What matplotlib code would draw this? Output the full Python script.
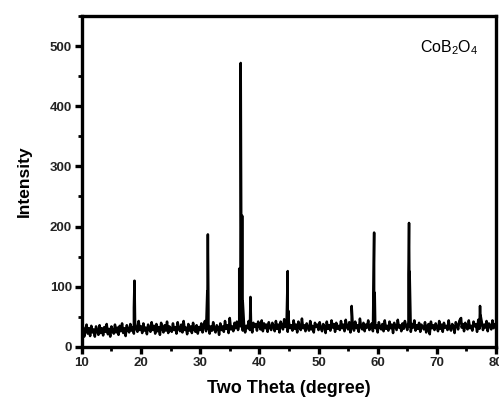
# XRD pattern of CoB2O4
import numpy as np
import matplotlib.pyplot as plt

plt.rcParams['font.family'] = ['Liberation Sans', 'DejaVu Sans']
plt.rcParams['mathtext.fontset'] = 'custom'
plt.rcParams['mathtext.rm'] = 'Liberation Sans'

# baseline, one value every 0.2 degree from 10 to 80
baseline_start = 10.0
baseline_step = 0.2
baseline = [
    20, 33, 17, 28, 37, 22, 31, 18, 35, 24,
    29, 17, 34, 26, 20, 36, 23, 31, 19, 33,
    25, 38, 21, 30, 17, 34, 27, 22, 37, 24,
    32, 20, 35, 26, 39, 23, 31, 18, 36, 28,
    24, 38, 27, 33, 22, 40, 29, 25, 43, 28,
    34, 23, 39, 27, 32, 21, 37, 29, 25, 41,
    28, 35, 22, 38, 26, 33, 20, 40, 31, 24,
    36, 27, 42, 23, 34, 29, 25, 39, 28, 33,
    22, 41, 30, 26, 37, 24, 43, 28, 32, 21,
    38, 27, 34, 23, 40, 29, 25, 36, 22, 33,
    28, 39, 24, 35, 43, 26, 31, 38, 22, 34,
    27, 41, 29, 24, 36, 32, 20, 39, 28, 34,
    25, 43, 30, 36, 23, 48, 29, 34, 26, 40,
    31, 42, 28, 37, 46, 33, 27, 39, 24, 35,
    31, 43, 28, 36, 24, 40, 33, 38, 27, 42,
    35, 29, 44, 26, 39, 31, 37, 25, 41, 33,
    28, 40, 34, 26, 43, 30, 37, 24, 42, 35,
    29, 46, 33, 38, 25, 41, 31, 36, 27, 44,
    30, 37, 24, 42, 33, 28, 47, 31, 36, 26,
    39, 32, 27, 43, 29, 35, 24, 40, 33, 37,
    28, 41, 31, 26, 38, 34, 23, 42, 30, 36,
    27, 44, 32, 38, 25, 40, 30, 35, 28, 43,
    31, 37, 26, 45, 33, 29, 41, 24, 38, 34,
    27, 42, 31, 36, 25, 47, 33, 29, 40, 26,
    37, 32, 44, 28, 35, 39, 26, 43, 31, 36,
    24, 41, 33, 29, 38, 26, 44, 30, 35, 27,
    42, 31, 37, 23, 40, 34, 28, 45, 32, 36,
    26, 39, 30, 43, 35, 28, 41, 33, 25, 38,
    32, 44, 27, 36, 30, 40, 25, 37, 33, 29,
    41, 24, 35, 38, 21, 42, 31, 36, 28, 39,
    33, 26, 43, 30, 37, 25, 40, 32, 35, 28,
    44, 31, 27, 38, 34, 23, 41, 36, 29, 43,
    47, 32, 38, 26, 40, 33, 29, 44, 31, 35,
    27, 42, 34, 38, 25, 45, 30, 36, 41, 28,
    37, 32, 43, 26, 39, 35, 29, 44, 31, 38, 33,
]

# diffraction peaks (two theta, intensity)
peak_pos = [18.8, 18.9, 31.2, 31.3, 31.4, 36.6, 36.85, 37.1, 37.2, 38.5,
            44.7, 44.8, 44.9, 55.6, 55.7, 59.3, 59.4, 59.5, 65.2, 65.3,
            65.4, 74.1, 77.3, 77.4]
peak_int = [65, 110, 92, 187, 62, 130, 472, 218, 75, 83,
            85, 126, 60, 68, 50, 115, 190, 90, 120, 206,
            125, 48, 68, 52]

base_x = baseline_start + baseline_step * np.arange(len(baseline))
x = np.concatenate([base_x, peak_pos])
y = np.concatenate([baseline, peak_int])
order = np.argsort(x, kind='stable')
x = x[order]
y = y[order]

fig = plt.figure(figsize=(4.99, 4.01), dpi=100)
ax = fig.add_axes([0.164, 0.135, 0.830, 0.825])
ax.plot(x, y, color='black', lw=1.8)

ax.set_xlim(10, 80)
ax.set_ylim(0, 550)
ax.set_xticks(range(10, 81, 10))
ax.set_xticks(range(15, 80, 10), minor=True)
ax.set_yticks(range(0, 501, 100))
ax.set_yticks(range(50, 551, 100), minor=True)

for s in ax.spines.values():
    s.set_linewidth(2.4)
ax.tick_params(which='major', direction='out', length=5, width=2.4,
               labelsize=9.5, colors='black', labelcolor='#222222', pad=2)
ax.tick_params(which='minor', direction='out', length=3, width=2)
for lbl in ax.get_xticklabels() + ax.get_yticklabels():
    lbl.set_fontweight('bold')

ax.set_xlabel('Two Theta (degree)', fontsize=13, fontweight='bold', labelpad=8)
ax.set_ylabel('Intensity', fontsize=12.5, fontweight='bold', labelpad=13)
ax.text(0.957, 0.905, 'CoB$_2$O$_4$', transform=ax.transAxes, fontsize=11.5,
        ha='right', va='center')

fig.savefig('out.png', dpi=100)
